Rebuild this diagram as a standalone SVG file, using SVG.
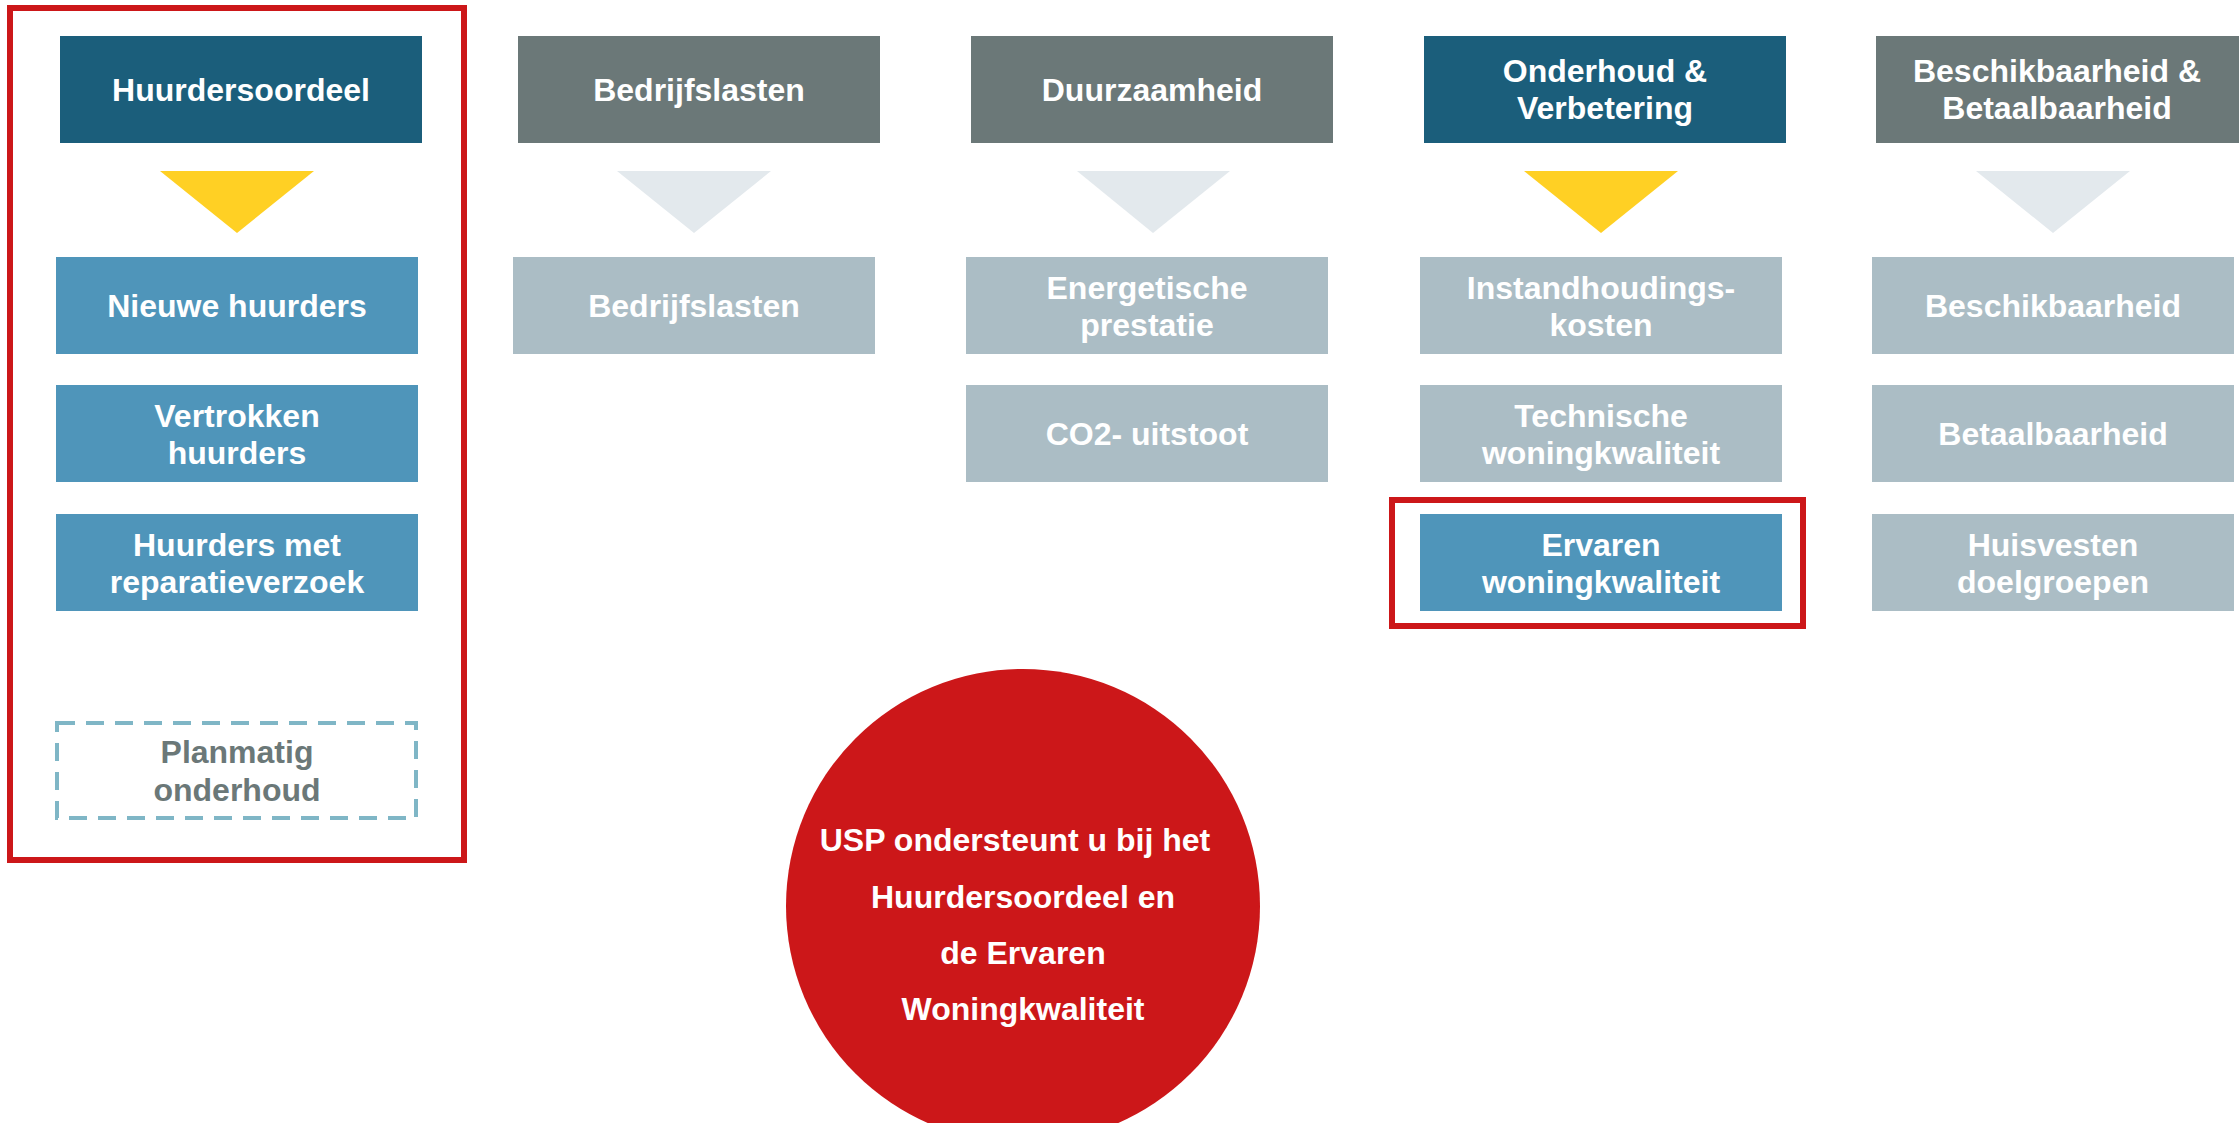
<svg xmlns="http://www.w3.org/2000/svg" width="2239" height="1123" viewBox="0 0 2239 1123">
<style>
text{font-family:"Liberation Sans",Arial,sans-serif;font-weight:bold;font-size:32px;text-anchor:middle;fill:#ffffff}
.hd{fill:#1b5e7b}
.hg{fill:#6b7878}
.sb{fill:#4f95ba}
.sl{fill:#abbdc5}
.ty{fill:#ffd024}
.tl{fill:#e3e9ed}
.red{fill:none;stroke:#cc1719;stroke-width:6}
.dash{fill:none;stroke:#7fb6c6;stroke-width:4;stroke-dasharray:18 11}
.gt{fill:#6b7878}
</style>
<g id="highlight-col1"><rect class="red" x="10" y="8" width="454" height="852"/></g>
<g id="huurdersoordeel"><rect class="hd" x="60" y="36" width="362" height="107"/><text x="241" y="101">Huurdersoordeel</text></g>
<g id="tri1"><polygon class="ty" points="160,171 314,171 237,233"/></g>
<g id="nieuwe-huurders"><rect class="sb" x="56" y="257" width="362" height="97"/><text x="237" y="317">Nieuwe huurders</text></g>
<g id="vertrokken-huurders"><rect class="sb" x="56" y="385" width="362" height="97"/><text x="237" y="427">Vertrokken</text><text x="237" y="464">huurders</text></g>
<g id="huurders-met-reparatieverzoek"><rect class="sb" x="56" y="514" width="362" height="97"/><text x="237" y="556">Huurders met</text><text x="237" y="593">reparatieverzoek</text></g>
<g id="planmatig-onderhoud"><rect class="dash" x="57" y="723" width="359" height="95"/><text class="gt" x="237" y="763">Planmatig</text><text class="gt" x="237" y="801">onderhoud</text></g>

<g id="bedrijfslasten"><rect class="hg" x="518" y="36" width="362" height="107"/><text x="699" y="101">Bedrijfslasten</text></g>
<g id="tri2"><polygon class="tl" points="617,171 771,171 694,233"/></g>
<g id="bedrijfslasten-sub"><rect class="sl" x="513" y="257" width="362" height="97"/><text x="694" y="317">Bedrijfslasten</text></g>

<g id="duurzaamheid"><rect class="hg" x="971" y="36" width="362" height="107"/><text x="1152" y="101">Duurzaamheid</text></g>
<g id="tri3"><polygon class="tl" points="1077,171 1230,171 1153,233"/></g>
<g id="energetische-prestatie"><rect class="sl" x="966" y="257" width="362" height="97"/><text x="1147" y="299">Energetische</text><text x="1147" y="336">prestatie</text></g>
<g id="co2-uitstoot"><rect class="sl" x="966" y="385" width="362" height="97"/><text x="1147" y="445">CO2- uitstoot</text></g>

<g id="onderhoud-verbetering"><rect class="hd" x="1424" y="36" width="362" height="107"/><text x="1605" y="82">Onderhoud &amp;</text><text x="1605" y="119">Verbetering</text></g>
<g id="tri4"><polygon class="ty" points="1524,171 1678,171 1601,233"/></g>
<g id="instandhoudingskosten"><rect class="sl" x="1420" y="257" width="362" height="97"/><text x="1601" y="299">Instandhoudings-</text><text x="1601" y="336">kosten</text></g>
<g id="technische-woningkwaliteit"><rect class="sl" x="1420" y="385" width="362" height="97"/><text x="1601" y="427">Technische</text><text x="1601" y="464">woningkwaliteit</text></g>
<g id="ervaren-woningkwaliteit"><rect class="sb" x="1420" y="514" width="362" height="97"/><text x="1601" y="556">Ervaren</text><text x="1601" y="593">woningkwaliteit</text><rect class="red" x="1392" y="500" width="411" height="126"/></g>

<g id="beschikbaarheid-betaalbaarheid"><rect class="hg" x="1876" y="36" width="363" height="107"/><text x="2057" y="82">Beschikbaarheid &amp;</text><text x="2057" y="119">Betaalbaarheid</text></g>
<g id="tri5"><polygon class="tl" points="1976,171 2130,171 2053,233"/></g>
<g id="beschikbaarheid"><rect class="sl" x="1872" y="257" width="362" height="97"/><text x="2053" y="317">Beschikbaarheid</text></g>
<g id="betaalbaarheid"><rect class="sl" x="1872" y="385" width="362" height="97"/><text x="2053" y="445">Betaalbaarheid</text></g>
<g id="huisvesten-doelgroepen"><rect class="sl" x="1872" y="514" width="362" height="97"/><text x="2053" y="556">Huisvesten</text><text x="2053" y="593">doelgroepen</text></g>

<g id="usp-circle"><circle cx="1023" cy="906" r="237" fill="#cc1719"/><text x="1015" y="851">USP ondersteunt u bij het</text><text x="1023" y="908">Huurdersoordeel en</text><text x="1023" y="964">de Ervaren</text><text x="1023" y="1020">Woningkwaliteit</text></g>
<g id="connectors"></g>
</svg>
